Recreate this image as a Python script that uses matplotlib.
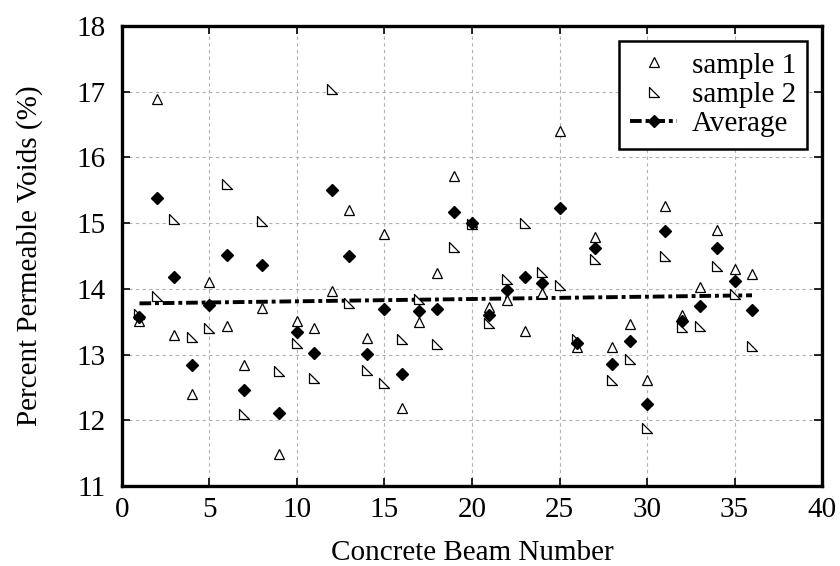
import numpy as np
import matplotlib
matplotlib.use("Agg")
import matplotlib.pyplot as plt
from matplotlib.path import Path
from matplotlib.lines import Line2D

plt.rcParams['font.family'] = ['Liberation Serif', 'DejaVu Serif']

# Permeable voids measured on each concrete beam (two samples per beam)
beams = list(range(1, 37))
sample1 = [13.51, 16.89, 13.30, 12.40, 14.11, 13.43, 12.84, 13.71, 11.48, 13.51,
           13.40, 13.97, 15.20, 13.25, 14.83, 12.18, 13.49, 14.24, 15.72, 15.02,
           13.73, 13.83, 13.36, 13.93, 16.40, 13.12, 14.79, 13.11, 13.47, 12.61,
           15.26, 13.60, 14.03, 14.89, 14.31, 14.23]
sample2 = [13.62, 13.89, 15.07, 13.27, 13.41, 15.59, 12.09, 15.03, 12.75, 13.18,
           12.65, 17.04, 13.79, 12.76, 12.57, 13.24, 13.84, 13.16, 14.63, 14.98,
           13.48, 14.15, 15.00, 14.25, 14.06, 13.23, 14.46, 12.61, 12.94, 11.89,
           14.50, 13.42, 13.44, 14.35, 13.92, 13.13]
average = [(a + b) / 2 for a, b in zip(sample1, sample2)]

x_ticks = [0, 5, 10, 15, 20, 25, 30, 35, 40]
y_ticks = [11, 12, 13, 14, 15, 16, 17, 18]

# right-angled triangle marker (right angle at lower left)
right_tri = Path([(-1, 1), (-1, -1), (1, -1), (-1, 1)],
                 [Path.MOVETO, Path.LINETO, Path.LINETO, Path.CLOSEPOLY])

fig = plt.figure(figsize=(8.4, 5.66), dpi=100)
ax = fig.add_axes([0.1452, 0.1413, 0.8334, 0.8127])

x = np.array(beams, dtype=float)
avg = np.array(average)

# least-squares trend through the beam averages
coef = np.polyfit(x, avg, 1)
trend = np.polyval(coef, x)

dash = (0, (3, 1, 1, 1))
ax.plot(x, trend, color='black', lw=2.8, linestyle=dash, zorder=2)

mk = dict(linestyle='none', markersize=7.5, markerfacecolor='white',
          markeredgecolor='black', markeredgewidth=0.9)
ax.plot(beams, sample1, marker='^', zorder=3, **mk)
ax.plot(beams, sample2, marker=right_tri, zorder=3, **mk)
ax.plot(beams, average, linestyle='none', marker='D', markersize=6.3,
        markerfacecolor='black', markeredgecolor='black', zorder=4)

ax.set_xlim(0, 40)
ax.set_ylim(11, 18)
ax.set_xticks(x_ticks)
ax.set_yticks(y_ticks)
ax.grid(True, color='#b0b0b0', linestyle=(0, (3, 3)), linewidth=0.8)
ax.set_axisbelow(True)

for s in ax.spines.values():
    s.set_linewidth(2.4)

ax.tick_params(axis='both', which='major', direction='in', length=6, width=1.2,
               top=True, right=True, labelsize=21)
ax.tick_params(axis='x', pad=8)
ax.tick_params(axis='y', pad=12)

ax.set_xlabel('Concrete Beam Number', fontsize=21, labelpad=12)
ax.set_ylabel('Percent Permeable Voids (%)', fontsize=21, labelpad=24)

h1 = Line2D([], [], marker='^', **mk)
h2 = Line2D([], [], marker=right_tri, **mk)
h3 = Line2D([], [], color='black', lw=2.8, linestyle=dash, marker='D',
            markersize=6.3, markerfacecolor='black')
leg = ax.legend([h1, h2, h3], ['sample 1', 'sample 2', 'Average'],
                loc='upper right', fontsize=21, frameon=True, fancybox=False,
                edgecolor='black', framealpha=1, labelspacing=0.1,
                handlelength=1.6, handletextpad=0.5, borderpad=0.4,
                borderaxespad=0.5)
leg.get_frame().set_linewidth(1.8)

fig.savefig('out.png', dpi=100)
